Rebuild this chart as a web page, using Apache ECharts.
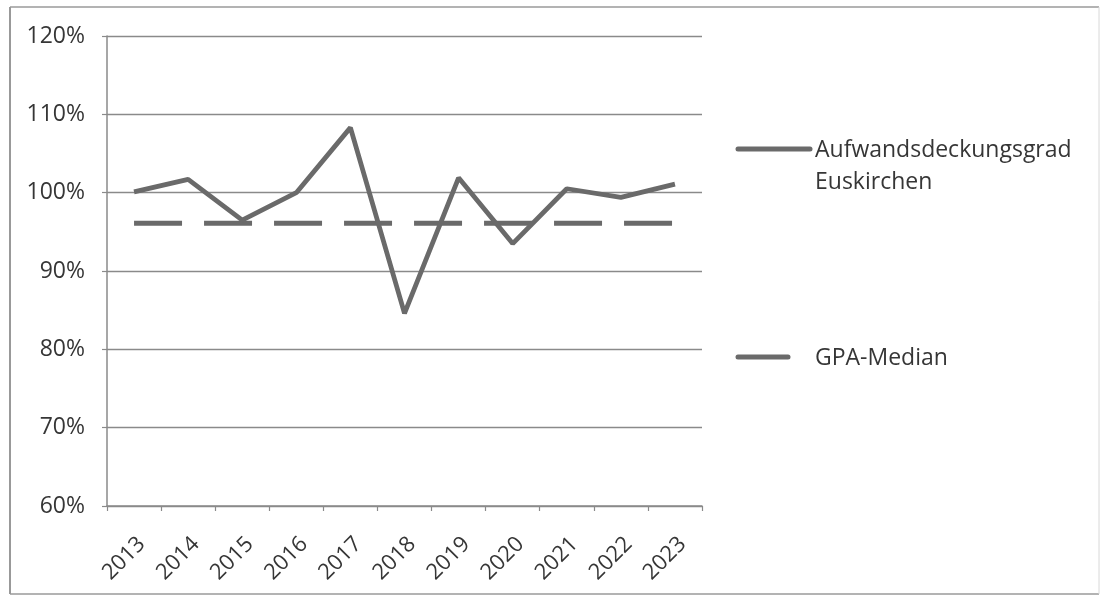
<!DOCTYPE html>
<html>
<head>
<meta charset="utf-8">
<script src="https://cdn.jsdelivr.net/npm/echarts@6/dist/echarts.min.js"></script>
<style>
  html, body { margin: 0; padding: 0; background: #ffffff; }
  #chart { width: 1105px; height: 596px; }
</style>
</head>
<body>
<div id="chart"></div>
<script>
// Jahre der Betrachtung
const years = ['2013', '2014', '2015', '2016', '2017', '2018', '2019', '2020', '2021', '2022', '2023'];
// Aufwandsdeckungsgrad Euskirchen in Prozent
const deckungsgrad = [100.1, 101.7, 96.5, 100.0, 108.3, 84.6, 101.9, 93.5, 100.5, 99.4, 101.1];
// GPA-Median in Prozent (konstant über alle Jahre)
const medianValue = 96.1;
const median = years.map(() => medianValue);
// Achsenbereich
const yMin = 60, yMax = 120, yStep = 10;

const seriesName = 'Aufwandsdeckungsgrad Euskirchen';
const medianName = 'GPA-Median';
const lineColor = '#6a6a6a';
const textColor = '#363636';
const font = 'Open Sans';
const fontSize = 23;

const chart = echarts.init(document.getElementById('chart'), null, { renderer: 'canvas' });

// Legende rechts neben dem Diagramm
const legendX = 738;
const legendTextX = 815;
const legendItems = [
  { y: 149, lineLen: 72, lines: seriesName.split(' ') },
  { y: 357, lineLen: 50, lines: [medianName] }
];
const legendGraphics = [];
legendItems.forEach((item) => {
  legendGraphics.push({
    type: 'line',
    shape: { x1: legendX, y1: item.y, x2: legendX + item.lineLen, y2: item.y },
    style: { stroke: lineColor, lineWidth: 5, lineCap: 'round' }
  });
  item.lines.forEach((txt, i) => {
    legendGraphics.push({
      type: 'text',
      x: legendTextX,
      y: item.y + 1 + i * 32,
      style: {
        text: txt,
        fill: textColor,
        font: fontSize + 'px "' + font + '"',
        textAlign: 'left',
        textVerticalAlign: 'middle',
        verticalAlign: 'middle'
      }
    });
  });
});

chart.setOption({
  backgroundColor: '#ffffff',
  animation: false,
  grid: { left: 107, right: 403, top: 36, bottom: 90, containLabel: false },
  xAxis: {
    type: 'category',
    data: years,
    boundaryGap: true,
    axisLine: { show: true, lineStyle: { color: '#8a8a8a', width: 1.5 } },
    axisTick: { show: true, length: 5, lineStyle: { color: '#8a8a8a', width: 1.2 } },
    axisLabel: {
      rotate: 45,
      margin: 27,
      verticalAlign: 'top',
      color: textColor,
      fontFamily: font,
      fontSize: 22
    },
    splitLine: { show: false }
  },
  yAxis: {
    type: 'value',
    min: yMin,
    max: yMax,
    interval: yStep,
    axisLine: { show: true, lineStyle: { color: '#8a8a8a', width: 1.5 } },
    axisTick: { show: true, length: 5, lineStyle: { color: '#8a8a8a', width: 1.2 } },
    axisLabel: {
      formatter: (v) => v + '%',
      margin: 22,
      color: textColor,
      fontFamily: font,
      fontSize: fontSize
    },
    splitLine: { show: true, lineStyle: { color: '#8a8a8a', width: 1.3 } }
  },
  legend: { show: false },
  series: [
    {
      name: seriesName,
      type: 'line',
      data: deckungsgrad,
      symbol: 'none',
      lineStyle: { color: lineColor, width: 4.8 },
      itemStyle: { color: lineColor },
      z: 3
    },
    {
      name: medianName,
      type: 'line',
      data: median,
      symbol: 'none',
      lineStyle: { color: lineColor, width: 5, type: [48, 22] },
      itemStyle: { color: lineColor },
      z: 2
    }
  ],
  graphic: [
    // Rahmen um das Diagramm
    { type: 'line', shape: { x1: 10, y1: 7, x2: 10, y2: 594 }, style: { stroke: '#777777', lineWidth: 1.5 } },
    { type: 'line', shape: { x1: 10, y1: 7, x2: 1099, y2: 7 }, style: { stroke: '#9a9a9a', lineWidth: 1.5 } },
    { type: 'line', shape: { x1: 10, y1: 594, x2: 1099, y2: 594 }, style: { stroke: '#9a9a9a', lineWidth: 1.5 } },
    { type: 'line', shape: { x1: 1099, y1: 7, x2: 1099, y2: 594 }, style: { stroke: '#d8d8d8', lineWidth: 1 } }
  ].concat(legendGraphics)
});
</script>
</body>
</html>
